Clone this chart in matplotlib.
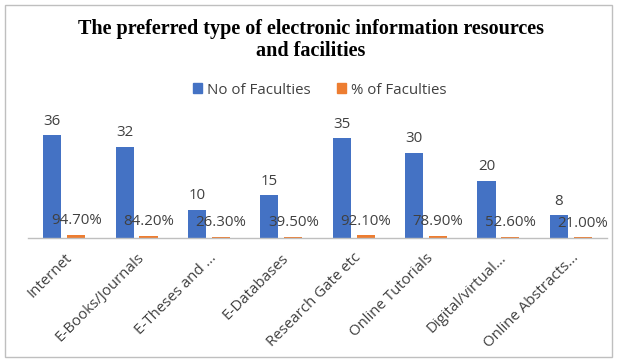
import matplotlib
matplotlib.use("Agg")
import matplotlib.pyplot as plt
from matplotlib.patches import Rectangle, Patch
import numpy as np

categories = ["Internet", "E-Books/Journals", "E-Theses and ...", "E-Databases",
              "Research Gate etc", "Online Tutorials", "Digital/virtual...",
              "Online Abstracts..."]
no_faculties = [36, 32, 10, 15, 35, 30, 20, 8]
pct_faculties = [0.947, 0.842, 0.263, 0.395, 0.921, 0.789, 0.526, 0.21]
pct_labels = ["94.70%", "84.20%", "26.30%", "39.50%", "92.10%", "78.90%", "52.60%", "21.00%"]

W, H = 621, 362
fig = plt.figure(figsize=(W / 100, H / 100), dpi=100)
fig.patch.set_facecolor("white")

# outer border
fig.add_artist(Rectangle((5 / W, 1 - 357 / H), (612 - 5) / W, (357 - 5) / H,
                         transform=fig.transFigure, fill=False,
                         edgecolor="#BFBFBF", linewidth=1.0))

ax_l, ax_r = 28 / W, 607 / W
ax_top, ax_bot = 124 / H, 238 / H
ax = fig.add_axes([ax_l, 1 - ax_bot, ax_r - ax_l, ax_bot - ax_top])

x = np.arange(len(categories))
bw = 0.25
off = 0.165
ax.bar(x - off, no_faculties, width=bw, color="#4472C4")
ax.bar(x + off, pct_faculties, width=bw, color="#ED7D31")

lab_font = dict(family="Open Sans", fontsize=10.8, color="#404040")
for i, v in enumerate(no_faculties):
    ax.text(x[i] - off, v + 2.3, str(v), ha="center", va="bottom", **lab_font)
for i, v in enumerate(pct_faculties):
    ax.text(x[i] + off, v + 2.4, pct_labels[i], ha="center", va="bottom", **lab_font)

ax.set_xlim(-0.5, len(categories) - 0.5)
ax.set_ylim(0, 40)
ax.set_yticks([])
for s in ["top", "right", "left"]:
    ax.spines[s].set_visible(False)
ax.spines["bottom"].set_color("#BFBFBF")
ax.spines["bottom"].set_linewidth(1.0)
ax.set_xticks(x)
ax.set_xticklabels(categories, rotation=45, ha="right", rotation_mode="anchor",
                   family="Open Sans", fontsize=10.8, color="#404040")
ax.tick_params(axis="x", length=0, pad=9)

fig.text(0.5, 1 - 40 / H, "The preferred type of electronic information resources\nand facilities",
         ha="center", va="center", family="Liberation Serif", fontweight="bold",
         fontsize=14.5, linespacing=1.1, color="black")

handles = [Patch(color="#4472C4"), Patch(color="#ED7D31")]
fig.legend(handles, ["No of Faculties", "% of Faculties"], loc="center",
           bbox_to_anchor=(0.515, 1 - 90 / H), ncol=2, frameon=False,
           prop=dict(family="Open Sans", size=10.8), handlelength=0.6, handleheight=0.6,
           handletextpad=0.3, columnspacing=1.8, labelcolor="#404040")

fig.savefig("out.png", dpi=100)
